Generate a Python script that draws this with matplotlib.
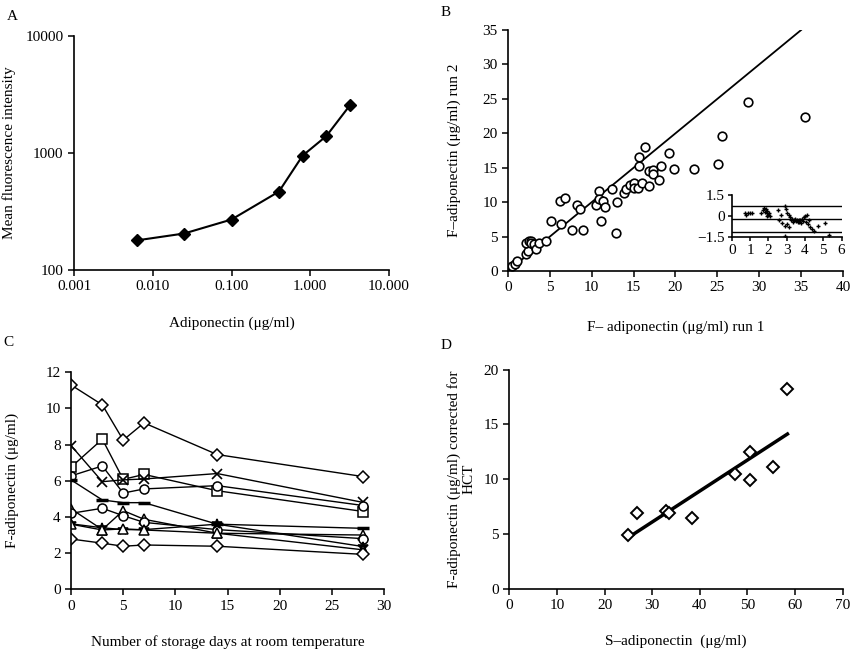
import numpy as np
import matplotlib
matplotlib.use("Agg")
import matplotlib.pyplot as plt
from matplotlib.ticker import FixedLocator, NullLocator

plt.rcParams['font.family'] = ['Liberation Serif', 'DejaVu Serif']
plt.rcParams['font.size'] = 11
plt.rcParams['axes.linewidth'] = 1.2
plt.rcParams['xtick.direction'] = 'out'
plt.rcParams['ytick.direction'] = 'out'
plt.rcParams['xtick.major.size'] = 4
plt.rcParams['ytick.major.size'] = 4
plt.rcParams['xtick.major.width'] = 1.1
plt.rcParams['ytick.major.width'] = 1.1

# --- A: standard curve
conc_a = [0.00625, 0.025, 0.1, 0.4, 0.8, 1.6, 3.2]
mfi_a = [179, 205, 270, 468, 950, 1395, 2565]
xticks_a = [0.001, 0.01, 0.1, 1, 10]
xlabels_a = ['0.001', '0.010', '0.100', '1.000', '10.000']
yticks_a = [100, 1000, 10000]

# --- B: run 1 vs run 2
run1 = [0.5, 0.9, 1.1, 2.2, 2.4, 2.2, 2.5, 2.8, 2.7, 3.1, 3.4, 3.7, 4.5, 5.1,
        6.3, 6.2, 6.8, 7.6, 8.3, 8.6, 9.0, 10.5, 10.9, 10.9, 11.4, 11.6, 11.1,
        12.4, 12.9, 13.0, 13.9, 14.1, 14.6, 15.1, 15.1, 15.5, 15.6, 15.6, 16.0,
        16.4, 16.8, 16.8, 17.3, 17.3, 18.0, 18.3, 19.2, 19.8, 22.2, 25.1, 25.6,
        28.7, 35.5]
run2 = [0.8, 1.0, 1.5, 2.5, 2.9, 4.1, 4.3, 4.3, 4.0, 3.9, 3.2, 4.0, 4.4, 7.3,
        6.8, 10.2, 10.6, 5.9, 9.6, 9.0, 5.9, 9.6, 11.6, 10.4, 10.2, 9.3, 7.2,
        11.9, 5.5, 10.0, 11.3, 11.9, 12.5, 12.8, 12.1, 12.1, 16.5, 15.3, 12.8,
        18.0, 14.5, 12.3, 14.7, 14.1, 13.2, 15.3, 17.1, 14.8, 14.8, 15.5, 19.6,
        24.5, 22.3]
identity = [0, 35]

# inset: Bland-Altman type plot
ba_x = [0.7, 0.8, 0.9, 1.0, 1.1, 1.6, 1.7, 1.75, 1.8, 1.85, 1.9, 1.95, 2.0,
        2.05, 1.9, 2.1, 2.5, 2.6, 2.7, 2.75, 2.9, 2.95, 3.0, 2.9, 3.0, 3.1,
        3.2, 3.25, 3.3, 3.35, 3.4, 3.45, 3.5, 3.55, 3.6, 3.65, 3.7, 3.75, 3.8,
        3.85, 3.9, 3.95, 4.0, 4.05, 4.1, 4.15, 4.2, 4.3, 4.4, 4.5, 4.7, 5.1,
        2.9, 5.3, 3.1]
ba_y = [0.2, 0.1, 0.2, 0.2, 0.25, 0.2, 0.4, 0.6, 0.3, 0.5, 0.2, 0.35, 0.1,
        0.25, 0.0, 0.0, 0.4, -0.3, 0.1, -0.5, 0.7, 0.5, 0.2, -0.7, -0.6, 0.1,
        -0.1, -0.3, -0.2, -0.4, -0.3, -0.2, -0.35, -0.3, -0.4, -0.25, -0.45,
        -0.3, -0.5, -0.2, -0.35, -0.1, 0.0, -0.4, 0.1, -0.6, -0.3, -0.8, -0.9,
        -1.1, -0.7, -0.5, -1.4, -1.35, -0.8]
ba_lines = [0.75, -0.2, -1.13]

# --- C: storage days
days = [0, 3, 5, 7, 14, 28]
c_series = [
    ('D', [11.3, 10.2, 8.25, 9.2, 7.45, 6.23]),
    ('s', [6.75, 8.3, 6.08, 6.35, 5.45, 4.3]),
    ('x', [7.95, 5.95, 6.05, 6.1, 6.4, 4.8]),
    ('o', [6.27, 6.82, 5.32, 5.55, 5.73, 4.63]),
    ('_', [6.05, 4.94, 4.79, 4.79, 3.6, 3.37]),
    ('^', [4.45, 3.3, 4.35, 3.87, 3.1, 3.0]),
    ('o', [4.2, 4.48, 4.07, 3.7, 3.3, 2.8]),
    ('*', [3.62, 3.4, 3.3, 3.3, 3.6, 2.36]),
    ('^', [3.6, 3.28, 3.34, 3.28, 3.1, 2.18]),
    ('D', [2.78, 2.55, 2.38, 2.45, 2.38, 1.93]),
]

# --- D: S- vs F-adiponectin
s_adipo = [24.9, 26.8, 33.0, 33.5, 38.3, 47.4, 50.5, 50.5, 55.3, 58.4]
f_adipo = [4.9, 6.94, 7.13, 6.9, 6.42, 10.5, 12.5, 9.9, 11.1, 18.2]

fig = plt.figure(figsize=(8.5, 6.49), dpi=100)


def style(ax):
    ax.spines['top'].set_visible(False)
    ax.spines['right'].set_visible(False)
    ax.tick_params(labelsize=11)


# Panel A
axA = fig.add_axes([0.0871, 0.584, 0.3706, 0.3606])
style(axA)
axA.plot(conc_a, mfi_a, color='black', lw=1.5, marker='D', ms=6.5, mfc='black')
axA.set_xscale('log')
axA.set_yscale('log')
axA.set_xlim(0.001, 10)
axA.set_ylim(100, 10000)
axA.xaxis.set_major_locator(FixedLocator(xticks_a))
axA.xaxis.set_minor_locator(NullLocator())
axA.set_xticklabels(xlabels_a)
axA.yaxis.set_major_locator(FixedLocator(yticks_a))
axA.yaxis.set_minor_locator(NullLocator())
axA.set_yticklabels([str(t) for t in yticks_a])
axA.set_xlabel('Adiponectin (μg/ml)', labelpad=17)
axA.set_ylabel('Mean fluorescence intensity', labelpad=7)
fig.text(0.008, 0.985, 'A', fontsize=11, va='top')

# Panel B
axB = fig.add_axes([0.5976, 0.5824, 0.3941, 0.3713])
style(axB)
axB.plot(identity, identity, color='black', lw=1.3)
axB.plot(run1, run2, ls='none', marker='o', ms=6.2, mfc='white',
         mec='black', mew=1.2)
axB.set_xlim(0, 40)
axB.set_ylim(0, 35)
axB.set_xticks(range(0, 41, 5))
axB.set_yticks(range(0, 36, 5))
axB.set_xlabel('F– adiponectin (μg/ml) run 1', labelpad=19)
axB.set_ylabel('F–adiponectin (μg/ml) run 2', labelpad=15)
fig.text(0.518, 0.99, 'B', fontsize=11, va='top')

axI = fig.add_axes([0.861, 0.6348, 0.129, 0.0647])
style(axI)
axI.patch.set_alpha(0)
for v in ba_lines:
    axI.axhline(v, color='black', lw=1.0)
axI.plot(ba_x, ba_y, ls='none', marker='+', ms=3.5, mew=1.0, color='black')
axI.set_xlim(0, 6)
axI.set_ylim(-1.5, 1.5)
axI.set_xticks(range(0, 7))
axI.set_yticks([1.5, 0, -1.5])
axI.set_yticklabels(['1.5', '0', '−1.5'])
axI.tick_params(labelsize=11, length=3, pad=2)

# Panel C
axC = fig.add_axes([0.0835, 0.092, 0.3686, 0.3344])
style(axC)
for mk, vals in c_series:
    if mk == '_':
        axC.plot(days, vals, color='black', lw=1.0, marker='_', ms=8, mew=2.5)
    elif mk in ('x', '*'):
        axC.plot(days, vals, color='black', lw=1.0, marker=mk, ms=7.5,
                 mew=1.2)
    else:
        axC.plot(days, vals, color='black', lw=1.0, marker=mk,
                 ms=6 if mk == 'D' else 6.5, mfc='white', mec='black', mew=1.1)
axC.set_xlim(0, 30)
axC.set_ylim(0, 12)
axC.set_xticks(range(0, 31, 5))
axC.set_yticks(range(0, 13, 2))
axC.set_xlabel('Number of storage days at room temperature', labelpad=16)
axC.set_ylabel('F-adiponectin (μg/ml)', labelpad=19)
fig.text(0.004, 0.482, 'C', fontsize=11, va='top')

# Panel D
axD = fig.add_axes([0.5992, 0.0929, 0.3922, 0.3374])
style(axD)
coef = np.polyfit(s_adipo, f_adipo, 1)
xfit = np.array([min(s_adipo), max(s_adipo)])
axD.plot(xfit, np.polyval(coef, xfit), color='black', lw=2.5)
axD.plot(s_adipo, f_adipo, ls='none', marker='D', ms=6.5, mfc='white',
         mec='black', mew=1.4)
axD.set_xlim(0, 70)
axD.set_ylim(0, 20)
axD.set_xticks(range(0, 71, 10))
axD.set_yticks(range(0, 21, 5))
axD.set_xlabel('S–adiponectin  (μg/ml)', labelpad=16)
axD.set_ylabel('F-adiponectin (μg/ml) corrected for\nHCT', labelpad=6,
               linespacing=1.1)
fig.text(0.518, 0.478, 'D', fontsize=11, va='top')

fig.savefig('out.png', dpi=100)
